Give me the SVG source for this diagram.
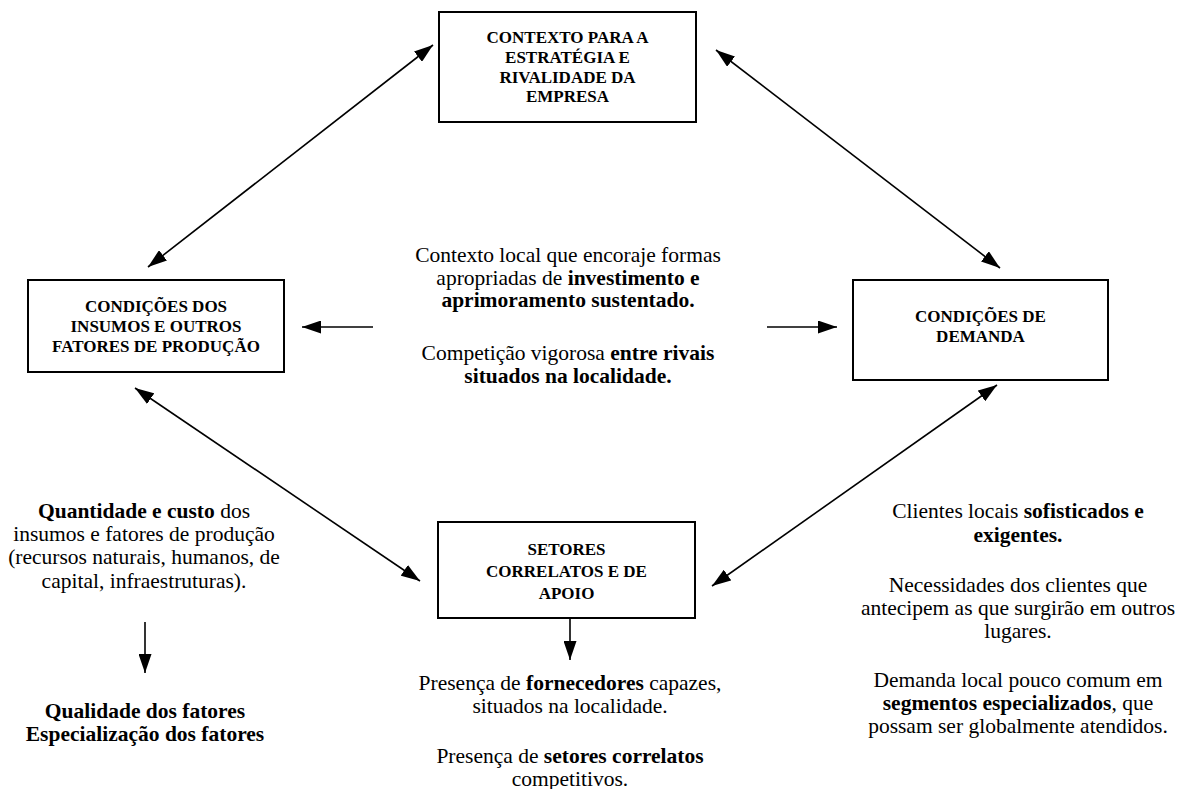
<svg xmlns="http://www.w3.org/2000/svg" width="1187" height="789" viewBox="0 0 1187 789">
  <style>
    .box { fill: #ffffff; stroke: #000000; stroke-width: 2; }
    .label { font-family: 'Liberation Serif', 'Times New Roman', serif; font-size: 17px; font-weight: bold; text-anchor: middle; fill: #000000; }
    .body { font-family: 'Liberation Serif', 'Times New Roman', serif; font-size: 21.5px; text-anchor: middle; fill: #000000; }
    .b { font-weight: bold; }
    .link { stroke: #000000; stroke-width: 1.6; fill: none; }
  </style>
  <defs>
    <marker id="head" viewBox="0 0 19 13" refX="19" refY="6.5" markerWidth="19" markerHeight="13" markerUnits="userSpaceOnUse" orient="auto-start-reverse">
      <path d="M0,0 L19,6.5 L0,13 Z" fill="#000000"/>
    </marker>
  </defs>
  <rect width="1187" height="789" fill="#ffffff"/>

  <!-- connectors -->
  <g id="connectors">
    <line class="link" x1="148" y1="267" x2="433" y2="45" marker-start="url(#head)" marker-end="url(#head)"/>
    <line class="link" x1="716" y1="50" x2="1000" y2="268" marker-start="url(#head)" marker-end="url(#head)"/>
    <line class="link" x1="135" y1="388" x2="420" y2="581" marker-start="url(#head)" marker-end="url(#head)"/>
    <line class="link" x1="997" y1="385" x2="712" y2="586" marker-start="url(#head)" marker-end="url(#head)"/>
    <line class="link" x1="373" y1="327" x2="302" y2="327" marker-end="url(#head)"/>
    <line class="link" x1="767" y1="327" x2="837" y2="327" marker-end="url(#head)"/>
    <line class="link" x1="570" y1="618" x2="570" y2="660" marker-end="url(#head)"/>
    <line class="link" x1="145" y1="622" x2="145" y2="673" marker-end="url(#head)"/>
  </g>

  <!-- top: strategy and rivalry -->
  <g id="node-estrategia">
    <rect class="box" x="439" y="12" width="257" height="110"/>
    <text class="label" x="567.5" y="43">CONTEXTO PARA A</text>
    <text class="label" x="567.5" y="63">ESTRATÉGIA E</text>
    <text class="label" x="567.5" y="82.5">RIVALIDADE DA</text>
    <text class="label" x="567.5" y="102">EMPRESA</text>
  </g>

  <!-- left: factor conditions -->
  <g id="node-insumos">
    <rect class="box" x="28" y="280" width="256" height="92"/>
    <text class="label" x="156" y="312">CONDIÇÕES DOS</text>
    <text class="label" x="156" y="332">INSUMOS E OUTROS</text>
    <text class="label" x="156" y="352">FATORES DE PRODUÇÃO</text>
  </g>

  <!-- right: demand conditions -->
  <g id="node-demanda">
    <rect class="box" x="853" y="280" width="255" height="100"/>
    <text class="label" x="980.5" y="322">CONDIÇÕES DE</text>
    <text class="label" x="980.5" y="342">DEMANDA</text>
  </g>

  <!-- bottom: related and supporting industries -->
  <g id="node-setores">
    <rect class="box" x="438" y="522" width="257" height="96"/>
    <text class="label" x="566.5" y="555">SETORES</text>
    <text class="label" x="566.5" y="577">CORRELATOS E DE</text>
    <text class="label" x="566.5" y="599">APOIO</text>
  </g>

  <!-- centre notes -->
  <g id="text-centro">
    <text class="body" x="568" y="262">Contexto local que encoraje formas</text>
    <text class="body" x="568" y="285">apropriadas de <tspan class="b">investimento e</tspan></text>
    <text class="body" x="568" y="307"><tspan class="b">aprimoramento sustentado.</tspan></text>
    <text class="body" x="568" y="360">Competição vigorosa <tspan class="b">entre rivais</tspan></text>
    <text class="body" x="568" y="383"><tspan class="b">situados na localidade.</tspan></text>
  </g>

  <!-- factor notes -->
  <g id="text-insumos">
    <text class="body" x="144" y="518"><tspan class="b">Quantidade e custo</tspan> dos</text>
    <text class="body" x="144" y="541">insumos e fatores de produção</text>
    <text class="body" x="144" y="564">(recursos naturais, humanos, de</text>
    <text class="body" x="144" y="588">capital, infraestruturas).</text>
    <text class="body b" x="145" y="718">Qualidade dos fatores</text>
    <text class="body b" x="145" y="741">Especialização dos fatores</text>
  </g>

  <!-- demand notes -->
  <g id="text-demanda">
    <text class="body" x="1018" y="518">Clientes locais <tspan class="b">sofisticados e</tspan></text>
    <text class="body" x="1018" y="542"><tspan class="b">exigentes.</tspan></text>
    <text class="body" x="1018" y="592">Necessidades dos clientes que</text>
    <text class="body" x="1018" y="615">antecipem as que surgirão em outros</text>
    <text class="body" x="1018" y="638">lugares.</text>
    <text class="body" x="1018" y="687">Demanda local pouco comum em</text>
    <text class="body" x="1018" y="710"><tspan class="b">segmentos especializados</tspan>, que</text>
    <text class="body" x="1018" y="733">possam ser globalmente atendidos.</text>
  </g>

  <!-- supplier notes -->
  <g id="text-setores">
    <text class="body" x="570" y="690">Presença de <tspan class="b">fornecedores</tspan> capazes,</text>
    <text class="body" x="570" y="713">situados na localidade.</text>
    <text class="body" x="570" y="763">Presença de <tspan class="b">setores correlatos</tspan></text>
    <text class="body" x="570" y="786">competitivos.</text>
  </g>
</svg>
